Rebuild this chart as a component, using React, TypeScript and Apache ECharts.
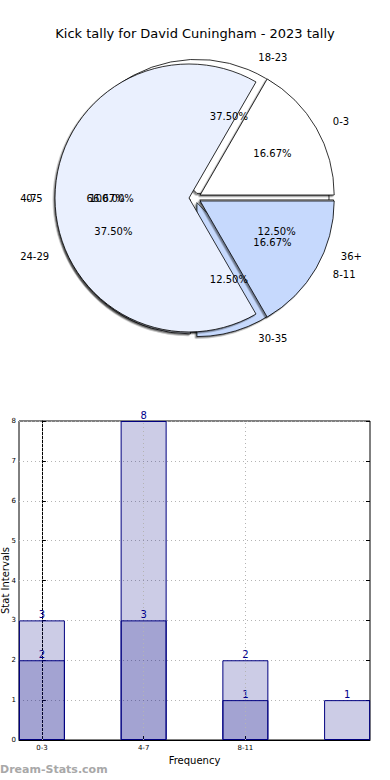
import React, { useEffect, useRef } from 'react';
import * as echarts from 'echarts';

const titleText = 'Kick tally for David Cuningham - 2023 tally';

// Pie layers (bottom to top)
const pieANames = ['0-5'];
const pieAValues = [1];
const pieBNames = ['18-23', '24-29', '30-35', '36+'];
const pieBValues = [3, 3, 1, 1];
const pieCNames = ['0-3', '4-7', '8-11'];
const pieCValues = [1, 4, 1];

// Bar chart
const barCategories = ['0-3', '4-7', '8-11', ''];
const barLight = [3, 8, 2, 1];
const barDark = [2, 3, 1];
const xTickPositions = [0, 1, 2];

const FONT = 'DejaVu Sans';
const CENTER: [number, number] = [195, 198];
const R = 134;
const WHITE = '#ffffff';
const PALE = '#eaf0fe';
const LIGHT = '#c6d9fd';
const colorsA = [WHITE];
const colorsB = [WHITE, PALE, LIGHT, WHITE];
const colorsC = [WHITE, PALE, LIGHT];

function pieLayer(names: string[], values: number[], colors: string[], offset: number, zBase: number) {
  const total = values.reduce((a, b) => a + b, 0);
  const selected = offset > 0 && values.length > 1;
  const common = {
    type: 'pie',
    center: CENTER,
    startAngle: 0,
    clockwise: false,
    selectedMode: 'multiple',
    selectedOffset: offset,
    avoidLabelOverlap: false,
    labelLayout: { hideOverlap: false },
    silent: true,
    emphasis: { disabled: true },
  };
  const slices = {
    ...common,
    z: zBase,
    radius: R,
    data: names.map((n, i) => ({
      name: n,
      value: values[i],
      selected,
      itemStyle: { color: colors[i % colors.length] },
    })),
    itemStyle: {
      borderColor: '#000',
      borderWidth: 0.8,
      shadowColor: 'rgba(0,0,0,0.45)',
      shadowBlur: 1,
      shadowOffsetX: -1.5,
      shadowOffsetY: 1.5,
    },
    select: { itemStyle: { borderColor: '#000', borderWidth: 0.8 } },
    label: {
      show: true,
      position: 'outside',
      formatter: '{b}',
      fontFamily: FONT,
      fontSize: 10,
      color: '#000',
    },
    labelLine: { show: false, length: R * 0.1, length2: 0 },
  };
  const pct = {
    ...common,
    z: 20,
    radius: [R * 0.2, R],
    data: names.map((n, i) => ({
      name: n,
      value: values[i],
      selected,
      itemStyle: { color: 'rgba(0,0,0,0)' },
    })),
    itemStyle: { borderWidth: 0 },
    select: { itemStyle: { borderWidth: 0, color: 'rgba(0,0,0,0)' } },
    label: {
      show: true,
      position: 'inside',
      formatter: (p: any) => ((p.value / total) * 100).toFixed(2) + '%',
      fontFamily: FONT,
      fontSize: 10,
      color: '#000',
    },
    labelLine: { show: false },
  };
  return [slices, pct];
}

export default function App() {
  const ref = useRef<HTMLDivElement>(null);
  useEffect(() => {
    if (!ref.current) return;
    const chart = echarts.init(ref.current, undefined, { renderer: 'svg' });
    const navyFill = 'rgba(0,0,128,0.2)';
    const gridLine = { type: [1, 3], color: '#b4b4b4', width: 1 };
    const barLabel = {
      show: true,
      position: 'top',
      distance: 1,
      color: '#00008b',
      fontSize: 10,
      fontFamily: FONT,
    };
    chart.setOption({
      animation: false,
      backgroundColor: '#fff',
      textStyle: { fontFamily: FONT },
      title: {
        text: titleText,
        left: 'center',
        top: 22,
        textStyle: { fontFamily: FONT, fontSize: 13, fontWeight: 'normal', color: '#000' },
      },
      graphic: [
        {
          type: 'text',
          left: 0,
          top: 764,
          style: { text: 'Dream-Stats.com', fontSize: 11, fontWeight: 'bold', fill: '#a8a8a8', fontFamily: FONT },
        },
      ],
      grid: {
        left: 19,
        right: 20,
        top: 421,
        bottom: 40,
        containLabel: false,
        outerBoundsMode: 'none',
        show: true,
        borderColor: '#000',
        borderWidth: 1,
        backgroundColor: 'transparent',
      },
      xAxis: {
        type: 'value',
        min: -0.225,
        max: 3.225,
        name: 'Frequency',
        nameLocation: 'middle',
        nameGap: 15,
        nameMoveOverlap: false,
        nameTextStyle: { fontFamily: FONT, fontSize: 10, color: '#000' },
        axisLine: { show: true, lineStyle: { color: '#000' } },
        axisTick: { show: true, inside: true, length: 4, customValues: xTickPositions, lineStyle: { color: '#000' } },
        axisLabel: {
          customValues: xTickPositions,
          formatter: (v: number) => barCategories[Math.round(v)] ?? '',
          fontSize: 7,
          fontFamily: FONT,
          color: '#000',
          margin: 4,
        },
        splitLine: { show: false },
      },
      yAxis: [
        {
          type: 'value',
          min: 0,
          max: 8,
          interval: 1,
          name: 'Stat Intervals',
          nameLocation: 'middle',
          nameGap: 9,
          nameRotate: 90,
          nameMoveOverlap: false,
          nameTextStyle: { fontFamily: FONT, fontSize: 10, color: '#000' },
          axisLine: { show: true, lineStyle: { color: '#000' } },
          axisTick: { show: true, inside: true, length: 4, lineStyle: { color: '#000' } },
          axisLabel: { fontSize: 7, fontFamily: FONT, color: '#000', margin: 3 },
          splitLine: { show: true, lineStyle: gridLine },
        },
        {
          type: 'value',
          position: 'right',
          min: 0,
          max: 8,
          interval: 1,
          axisLine: { show: false },
          axisTick: { show: true, inside: true, length: 4, lineStyle: { color: '#000' } },
          axisLabel: { show: false },
          splitLine: { show: false },
        },
      ],
      series: [
        ...pieLayer(pieANames, pieAValues, colorsA, 0, 1),
        ...pieLayer(pieBNames, pieBValues, colorsB, 5, 2),
        ...pieLayer(pieCNames, pieCValues, colorsC, 6, 3),
        {
          type: 'bar',
          name: 'light',
          data: barLight.map((v, i) => [i, v]),
          barWidth: 46,
          barGap: '-100%',
          itemStyle: { color: navyFill, borderColor: '#000080', borderWidth: 1 },
          label: barLabel,
          silent: true,
          markLine: {
            silent: true,
            symbol: ['none', 'none'],
            label: { show: false },
            emphasis: { disabled: true },
            lineStyle: gridLine,
            data: xTickPositions.map((x) => ({ xAxis: x, lineStyle: gridLine })),
          },
        },
        {
          type: 'bar',
          name: 'dark',
          data: barDark.map((v, i) => [i, v]),
          barWidth: 46,
          barGap: '-100%',
          itemStyle: { color: navyFill, borderColor: '#000080', borderWidth: 1 },
          label: barLabel,
          silent: true,
        },
      ],
    });
    return () => chart.dispose();
  }, []);
  return (
    <div
      ref={ref}
      style={{ position: 'fixed', left: 0, top: 0, width: 390, height: 780 }}
    />
  );
}
